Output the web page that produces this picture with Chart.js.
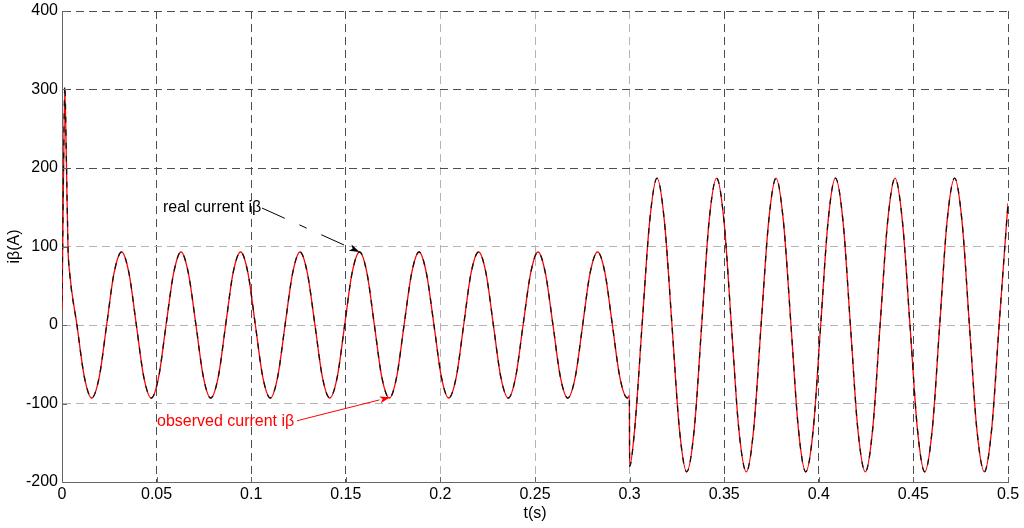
<!DOCTYPE html>
<html>
<head>
<meta charset="utf-8">
<script src="https://cdn.jsdelivr.net/npm/chart.js@4"></script>
<style>
  body { margin: 0; background: #fff; }
  #wrap { width: 1024px; height: 528px; }
</style>
</head>
<body>
<div id="wrap"><canvas id="grafico" width="1024" height="528"></canvas></div>
<script>
// valores (t em segundos, corrente em A)
const timeS = [
  0, 0.0008, 0.0015, 0.0023, 0.0032,
  0.0039, 0.0079, 0.0118, 0.0157, 0.0197, 0.0236, 0.0275, 0.0315,
  0.0354, 0.0393, 0.0432, 0.0472, 0.0511, 0.0550, 0.0590, 0.0629,
  0.0668, 0.0708, 0.0747, 0.0786, 0.0826, 0.0865, 0.0904, 0.0944,
  0.0983, 0.1022, 0.1061, 0.1101, 0.1140, 0.1179, 0.1219, 0.1258,
  0.1297, 0.1337, 0.1376, 0.1415, 0.1455, 0.1494, 0.1533, 0.1573,
  0.1612, 0.1651, 0.1690, 0.1730, 0.1769, 0.1808, 0.1848, 0.1887,
  0.1926, 0.1966, 0.2005, 0.2044, 0.2084, 0.2123, 0.2162, 0.2202,
  0.2241, 0.2280, 0.2319, 0.2359, 0.2398, 0.2437, 0.2477, 0.2516,
  0.2555, 0.2595, 0.2634, 0.2673, 0.2713, 0.2752, 0.2791, 0.2831,
  0.2870, 0.2909, 0.2948, 0.2988,
  0.2999, 0.3000,
  0.3027, 0.3066, 0.3106, 0.3145,
  0.3184, 0.3224, 0.3263, 0.3302, 0.3342, 0.3381, 0.3420, 0.3460,
  0.3499, 0.3538, 0.3577, 0.3617, 0.3656, 0.3695, 0.3735, 0.3774,
  0.3813, 0.3853, 0.3892, 0.3931, 0.3971, 0.4010, 0.4049, 0.4088,
  0.4128, 0.4167, 0.4206, 0.4246, 0.4285, 0.4324, 0.4364, 0.4403,
  0.4442, 0.4482, 0.4521, 0.4560, 0.4600, 0.4639, 0.4678, 0.4718,
  0.4757, 0.4796, 0.4835, 0.4875, 0.4914, 0.4953, 0.4993,
  0.5
];

const realI = [
  30, 200, 305, 215, 98,
  70, 0, -66, -93, -66, 0, 66, 93,
  66, 0, -66, -93, -66, 0, 66, 93,
  66, 0, -66, -93, -66, 0, 66, 93,
  66, 0, -66, -93, -66, 0, 66, 93,
  66, 0, -66, -93, -66, 0, 66, 93,
  66, 0, -66, -93, -66, 0, 66, 93,
  66, 0, -66, -93, -66, 0, 66, 93,
  66, 0, -66, -93, -66, 0, 66, 93,
  66, 0, -66, -93, -66, 0, 66, 93,
  66, 0, -66, -93,
  -90, -180,
  -132, 0, 132, 187,
  132, 0, -132, -187, -132, 0, 132, 187,
  132, 0, -132, -187, -132, 0, 132, 187,
  132, 0, -132, -187, -132, 0, 132, 187,
  132, 0, -132, -187, -132, 0, 132, 187,
  132, 0, -132, -187, -132, 0, 132, 187,
  132, 0, -132, -187, -132, 0, 132,
  155
];

// a corrente observada coincide com a real, exceto no transitório inicial
const observedStart = [20, 190, 300, 210, 96];
const observedI = observedStart.concat(realI.slice(observedStart.length));

const xTicks = [0, 0.05, 0.1, 0.15, 0.2, 0.25, 0.3, 0.35, 0.4, 0.45, 0.5];
const yTicks = [-200, -100, 0, 100, 200, 300, 400];

const fonte = 'Arial, "Liberation Sans", sans-serif';
const escuro = '#4d4d4d';
const claro = '#b3b3b3';
const xEscuros = [5, 10, 15, 35, 40, 45, 50];   // em centésimos
const yEscuros = [200, 300, 400];

const notas = [
    { texto: 'real current iβ', cor: '#000000', em: [0.0534, 149], de: [0.1057, 149], ate: [0.1573, 93], traco: [25, 16, 8, 16] },
    { texto: 'observed current iβ', cor: '#ff0000', em: [0.0502, -123], de: [0.1242, -122], ate: [0.1734, -92], traco: [] }
];

function pares(ys) {
    return timeS.map((t, i) => ({ x: t, y: ys[i] }));
}

// marcas internas dos eixos e anotações com setas
const extras = {
    id: 'extras',
    afterDatasetsDraw(chart) {
        const { ctx, chartArea: a, scales: { x, y } } = chart;
        ctx.save();
        ctx.strokeStyle = '#666';
        ctx.lineWidth = 1;
        ctx.beginPath();
        xTicks.forEach(v => {
            const px = Math.round(x.getPixelForValue(v)) + 0.5;
            ctx.moveTo(px, a.bottom);
            ctx.lineTo(px, a.bottom - 5);
        });
        yTicks.forEach(v => {
            const py = Math.round(y.getPixelForValue(v)) + 0.5;
            ctx.moveTo(a.left, py);
            ctx.lineTo(a.left + 5, py);
        });
        ctx.stroke();

        notas.forEach(n => {
            ctx.font = '16px ' + fonte;
            ctx.fillStyle = n.cor;
            ctx.textAlign = 'left';
            ctx.textBaseline = 'middle';
            ctx.fillText(n.texto, x.getPixelForValue(n.em[0]), y.getPixelForValue(n.em[1]));

            const x0 = x.getPixelForValue(n.de[0]), y0 = y.getPixelForValue(n.de[1]);
            const x1 = x.getPixelForValue(n.ate[0]), y1 = y.getPixelForValue(n.ate[1]);
            const ang = Math.atan2(y1 - y0, x1 - x0);
            const tam = 11;
            ctx.strokeStyle = n.cor;
            ctx.lineWidth = 1;
            ctx.setLineDash(n.traco);
            ctx.beginPath();
            ctx.moveTo(x0, y0);
            ctx.lineTo(x1 - tam * Math.cos(ang), y1 - tam * Math.sin(ang));
            ctx.stroke();
            ctx.setLineDash([]);
            ctx.beginPath();
            ctx.moveTo(x1, y1);
            ctx.lineTo(x1 - tam * Math.cos(ang - 0.32), y1 - tam * Math.sin(ang - 0.32));
            ctx.lineTo(x1 - tam * 0.7 * Math.cos(ang), y1 - tam * 0.7 * Math.sin(ang));
            ctx.lineTo(x1 - tam * Math.cos(ang + 0.32), y1 - tam * Math.sin(ang + 0.32));
            ctx.closePath();
            ctx.fill();
        });
        ctx.restore();
    }
};

new Chart(document.getElementById('grafico'), {
    type: 'line',
    data: {
        datasets: [
            {
                label: 'real current iβ',
                data: pares(realI),
                borderColor: '#111111',
                borderWidth: 1.3,
                borderDash: [6, 7],
                pointRadius: 0,
                cubicInterpolationMode: 'monotone',
                order: 0
            },
            {
                label: 'observed current iβ',
                data: pares(observedI),
                borderColor: '#ff0000',
                borderWidth: 1.3,
                pointRadius: 0,
                cubicInterpolationMode: 'monotone',
                order: 1
            }
        ]
    },
    options: {
        responsive: false,
        animation: false,
        layout: { padding: { top: 11, right: 16, left: 0, bottom: 0 } },
        plugins: { legend: { display: false }, tooltip: { enabled: false } },
        scales: {
            x: {
                type: 'linear',
                min: 0,
                max: 0.5,
                afterBuildTicks: s => { s.ticks = xTicks.map(v => ({ value: v })); },
                afterFit: s => { s.height = 46; },
                ticks: {
                    padding: 3,
                    color: '#000',
                    font: { family: fonte, size: 16 },
                    maxRotation: 0,
                    callback: v => String(Math.round(v * 100) / 100)
                },
                grid: {
                    drawTicks: false,
                    lineWidth: 1,
                    color: c => {
                        const v = Math.round(c.tick.value * 100);
                        if (v === 0) return 'rgba(0,0,0,0)';
                        return xEscuros.includes(v) ? escuro : claro;
                    }
                },
                border: { display: true, color: '#666', width: 1, dash: [8, 5] },
                title: {
                    display: true,
                    text: 't(s)',
                    color: '#000',
                    font: { family: fonte, size: 16 },
                    padding: { top: 0, bottom: 5 }
                }
            },
            y: {
                min: -200,
                max: 400,
                afterBuildTicks: s => { s.ticks = yTicks.map(v => ({ value: v })); },
                afterFit: s => { s.width = 62; s.paddingTop = 0; s.paddingBottom = 0; },
                ticks: {
                    padding: 4,
                    color: '#000',
                    font: { family: fonte, size: 16 }
                },
                grid: {
                    drawTicks: false,
                    lineWidth: 1,
                    color: c => {
                        const v = c.tick.value;
                        if (v === -200) return 'rgba(0,0,0,0)';
                        return yEscuros.includes(v) ? escuro : claro;
                    }
                },
                border: { display: true, color: '#666', width: 1, dash: [8, 5] },
                title: {
                    display: true,
                    text: 'iβ(A)',
                    color: '#000',
                    font: { family: fonte, size: 16 },
                    padding: { top: 5, bottom: 0 }
                }
            }
        }
    },
    plugins: [extras]
});
</script>
</body>
</html>
